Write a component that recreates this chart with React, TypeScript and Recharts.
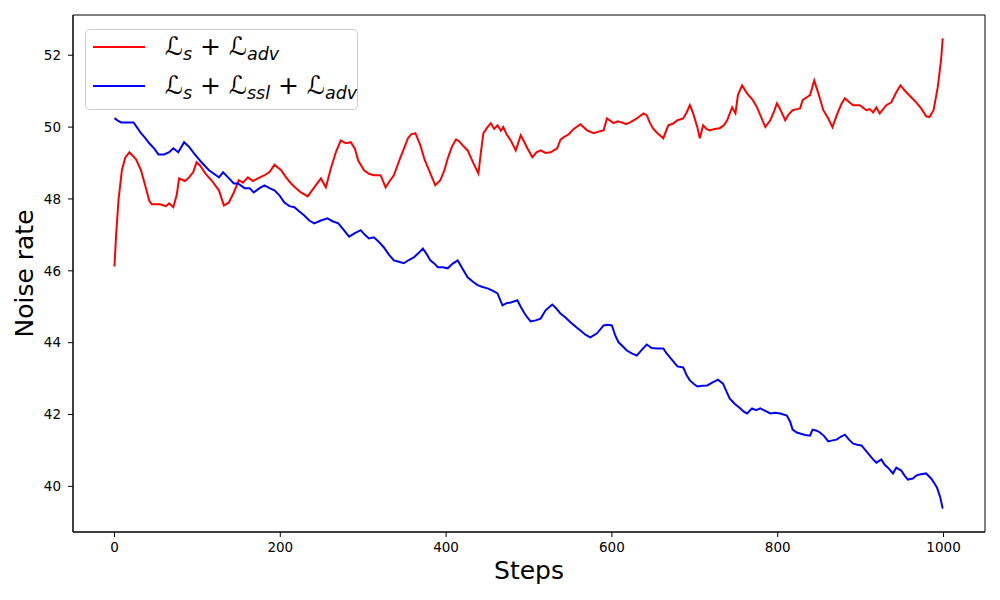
import React from 'react';
import { LineChart, Line, XAxis, YAxis, Legend, ReferenceArea } from 'recharts';

const redSteps = [0, 2, 5, 9, 13, 18, 26, 32, 38, 42, 45, 55, 62, 66, 71, 75, 78, 85, 90, 95, 99, 103, 110, 117, 126, 132, 138, 144, 150, 155, 161, 167, 173, 181, 187, 193, 201, 207, 213, 219, 225, 233, 241, 249, 255, 261, 267, 273, 279, 285, 290, 294, 301, 307, 313, 321, 327, 332, 337, 345, 350, 354, 358, 363, 369, 374, 378, 383, 387, 393, 398, 402, 407, 412, 416, 420, 426, 433, 439, 442, 445, 450, 454, 458, 462, 466, 469, 473, 478, 484, 490, 494, 498, 504, 509, 514, 520, 526, 534, 538, 542, 548, 554, 562, 570, 578, 585, 590, 594, 602, 607, 612, 617, 622, 630, 638, 642, 646, 650, 655, 662, 668, 674, 679, 686, 690, 694, 698, 703, 706, 710, 714, 718, 724, 730, 735, 739, 745, 749, 752, 757, 763, 770, 775, 779, 785, 791, 795, 799, 803, 809, 813, 818, 823, 827, 830, 835, 839, 844, 849, 855, 861, 866, 872, 877, 881, 886, 891, 899, 907, 911, 915, 919, 923, 931, 937, 943, 948, 955, 961, 967, 973, 979, 983, 988, 993, 997, 999];
const redValues = [46.12, 47.0, 48.0, 48.8, 49.15, 49.3, 49.1, 48.8, 48.3, 47.95, 47.85, 47.85, 47.8, 47.88, 47.77, 48.1, 48.57, 48.5, 48.6, 48.75, 49.02, 48.94, 48.7, 48.52, 48.24, 47.82, 47.9, 48.18, 48.52, 48.45, 48.6, 48.5, 48.57, 48.66, 48.75, 48.95, 48.8, 48.6, 48.43, 48.3, 48.18, 48.07, 48.32, 48.57, 48.32, 48.85, 49.3, 49.63, 49.55, 49.58, 49.4, 49.07, 48.8, 48.7, 48.66, 48.66, 48.32, 48.5, 48.66, 49.16, 49.45, 49.69, 49.8, 49.83, 49.49, 49.1, 48.88, 48.6, 48.38, 48.52, 48.8, 49.13, 49.45, 49.66, 49.6, 49.49, 49.35, 48.99, 48.71, 49.3, 49.83, 50.0, 50.11, 49.95, 50.05, 49.9, 50.0, 49.8, 49.63, 49.35, 49.77, 49.6, 49.41, 49.16, 49.3, 49.35, 49.28, 49.3, 49.41, 49.65, 49.72, 49.8, 49.95, 50.08, 49.91, 49.83, 49.88, 49.91, 50.24, 50.11, 50.16, 50.13, 50.08, 50.13, 50.24, 50.38, 50.33, 50.11, 49.95, 49.83, 49.69, 50.05, 50.1, 50.19, 50.24, 50.4, 50.61, 50.38, 50.0, 49.69, 50.05, 49.95, 49.91, 49.95, 49.97, 50.05, 50.19, 50.55, 50.38, 50.89, 51.16, 50.94, 50.75, 50.55, 50.33, 50.0, 50.19, 50.4, 50.66, 50.5, 50.19, 50.35, 50.47, 50.5, 50.52, 50.75, 50.83, 50.89, 51.3, 50.94, 50.47, 50.24, 50.0, 50.38, 50.65, 50.8, 50.7, 50.61, 50.61, 50.47, 50.5, 50.41, 50.55, 50.38, 50.61, 50.69, 50.97, 51.16, 50.97, 50.83, 50.69, 50.52, 50.3, 50.28, 50.47, 51.11, 51.86, 52.47];

const blueSteps = [0, 4, 8, 15, 23, 27, 32, 37, 42, 48, 53, 60, 66, 71, 77, 84, 90, 96, 105, 114, 120, 126, 131, 137, 144, 149, 157, 163, 168, 175, 181, 187, 193, 199, 205, 211, 217, 223, 229, 235, 241, 249, 257, 263, 270, 276, 283, 290, 297, 302, 307, 313, 319, 325, 331, 337, 343, 349, 355, 361, 367, 372, 377, 381, 386, 390, 396, 402, 408, 414, 420, 426, 432, 438, 444, 450, 456, 462, 468, 473, 478, 486, 490, 494, 498, 502, 508, 514, 520, 528, 533, 538, 544, 550, 556, 562, 568, 574, 582, 590, 595, 600, 604, 608, 613, 618, 624, 630, 636, 642, 648, 655, 662, 666, 670, 675, 679, 686, 690, 694, 699, 703, 709, 715, 721, 728, 734, 738, 742, 748, 755, 759, 763, 769, 774, 779, 785, 791, 797, 803, 811, 815, 818, 823, 827, 833, 839, 842, 847, 851, 856, 861, 866, 871, 876, 881, 886, 891, 896, 901, 906, 911, 915, 919, 925, 929, 933, 939, 943, 949, 953, 957, 963, 967, 971, 979, 985, 988, 992, 996, 999];
const blueValues = [50.25, 50.18, 50.13, 50.13, 50.13, 50.0, 49.83, 49.7, 49.55, 49.4, 49.24, 49.24, 49.3, 49.41, 49.3, 49.58, 49.45, 49.27, 49.02, 48.8, 48.7, 48.6, 48.74, 48.6, 48.43, 48.43, 48.3, 48.3, 48.18, 48.3, 48.38, 48.3, 48.24, 48.1, 47.9, 47.8, 47.77, 47.65, 47.54, 47.4, 47.32, 47.4, 47.46, 47.38, 47.32, 47.15, 46.95, 47.05, 47.13, 47.0, 46.9, 46.93, 46.8, 46.65, 46.45, 46.29, 46.25, 46.21, 46.3, 46.37, 46.5, 46.62, 46.45, 46.29, 46.2, 46.1, 46.1, 46.07, 46.2, 46.29, 46.05, 45.82, 45.7, 45.6, 45.55, 45.51, 45.45, 45.37, 45.04, 45.1, 45.12, 45.18, 45.0, 44.84, 44.7, 44.59, 44.62, 44.67, 44.9, 45.06, 44.95, 44.81, 44.7, 44.57, 44.45, 44.34, 44.22, 44.15, 44.26, 44.48, 44.5, 44.48, 44.2, 44.01, 43.9, 43.78, 43.7, 43.64, 43.8, 43.95, 43.85, 43.84, 43.84, 43.7, 43.59, 43.45, 43.34, 43.31, 43.1, 42.95, 42.85, 42.78, 42.8, 42.81, 42.89, 42.97, 42.86, 42.65, 42.45, 42.3, 42.17, 42.08, 42.03, 42.17, 42.12, 42.17, 42.1, 42.03, 42.05, 42.03, 41.97, 41.8, 41.58, 41.5, 41.47, 41.43, 41.41, 41.58, 41.55, 41.5, 41.4, 41.25, 41.28, 41.3, 41.38, 41.44, 41.3, 41.19, 41.16, 41.14, 41.0, 40.86, 40.75, 40.66, 40.75, 40.6, 40.52, 40.36, 40.52, 40.44, 40.3, 40.19, 40.22, 40.3, 40.33, 40.36, 40.22, 40.12, 39.97, 39.7, 39.38];

const xTicks = [0, 200, 400, 600, 800, 1000];
const yTicks = [40, 42, 44, 46, 48, 50, 52];
const xDomain: [number, number] = [-50, 1050];
const yDomain: [number, number] = [38.73, 53.12];

const redData = redSteps.map((s, i) => ({ step: s, value: redValues[i] }));
const blueData = blueSteps.map((s, i) => ({ step: s, value: blueValues[i] }));

const FONT = '"DejaVu Sans", sans-serif';

const Sub = ({ children }: { children: React.ReactNode }) => (
  <span style={{ fontSize: '0.7em', fontStyle: 'italic', position: 'relative', top: '0.28em' }}>{children}</span>
);

const LegendRow = ({ color, children }: { color: string; children: React.ReactNode }) => (
  <div style={{ display: 'flex', alignItems: 'center', height: 39 }}>
    <svg width={52} height={6} style={{ marginRight: 20, flex: 'none' }}>
      <line x1={0} y1={3} x2={52} y2={3} stroke={color} strokeWidth={2} />
    </svg>
    <span style={{ whiteSpace: 'nowrap', lineHeight: 1 }}>{children}</span>
  </div>
);

const renderLegend = () => (
  <div
    style={{
      boxSizing: 'border-box',
      width: 273,
      height: 81,
      border: '1px solid #cccccc',
      borderRadius: 5,
      background: 'rgba(255,255,255,0.8)',
      paddingLeft: 7,
      fontFamily: FONT,
      fontSize: 25,
      color: '#000',
    }}
  >
    <div style={{ marginTop: -3 }}>
      <LegendRow color="#ff0000">
        ℒ<Sub>s</Sub> + ℒ<Sub>adv</Sub>
      </LegendRow>
      <LegendRow color="#0000ff">
        ℒ<Sub>s</Sub> + ℒ<Sub>ssl</Sub> + ℒ<Sub>adv</Sub>
      </LegendRow>
    </div>
  </div>
);

export default function App() {
  return (
    <div style={{ position: 'absolute', left: 0, top: 0, width: 1000, height: 600, background: '#fff' }}>
      <LineChart
        width={1000}
        height={600}
        margin={{ top: 15, right: 15, bottom: 0, left: 0 }}
        style={{ fontFamily: FONT }}
      >
        <XAxis
          dataKey="step"
          type="number"
          domain={xDomain}
          ticks={xTicks}
          allowDataOverflow
          height={68}
          tickSize={5}
          tickMargin={5}
          stroke="#000"
          tick={{ fill: '#000', fontSize: 13.5 }}
          axisLine={{ stroke: '#000', strokeWidth: 1 }}
          tickLine={{ stroke: '#000', strokeWidth: 1 }}
          label={{ value: 'Steps', position: 'insideBottom', offset: 21, style: { fontSize: 25, fill: '#000' } }}
        />
        <YAxis
          type="number"
          domain={yDomain}
          ticks={yTicks}
          allowDataOverflow
          width={73}
          tickSize={5}
          tickMargin={7}
          stroke="#000"
          tick={{ fill: '#000', fontSize: 13.5 }}
          axisLine={{ stroke: '#000', strokeWidth: 1 }}
          tickLine={{ stroke: '#000', strokeWidth: 1 }}
          label={{
            value: 'Noise rate',
            position: 'insideLeft',
            offset: 24,
            angle: -90,
            style: { fontSize: 25, fill: '#000', textAnchor: 'middle' },
          }}
        />
        <ReferenceArea
          x1={xDomain[0]}
          x2={xDomain[1]}
          y1={yDomain[0]}
          y2={yDomain[1]}
          fill="none"
          fillOpacity={0}
          stroke="#000"
          strokeWidth={1}
          ifOverflow="visible"
        />
        <Line
          data={redData}
          dataKey="value"
          name="Ls + Ladv"
          type="linear"
          stroke="#ff0000"
          strokeWidth={2}
          dot={false}
          activeDot={false}
          isAnimationActive={false}
        />
        <Line
          data={blueData}
          dataKey="value"
          name="Ls + Lssl + Ladv"
          type="linear"
          stroke="#0000ff"
          strokeWidth={2}
          dot={false}
          activeDot={false}
          isAnimationActive={false}
        />
        <Legend
          layout="vertical"
          align="center"
          verticalAlign="middle"
          content={renderLegend}
          wrapperStyle={{ left: 85, top: 29, width: 273, height: 81 }}
        />
      </LineChart>
    </div>
  );
}
